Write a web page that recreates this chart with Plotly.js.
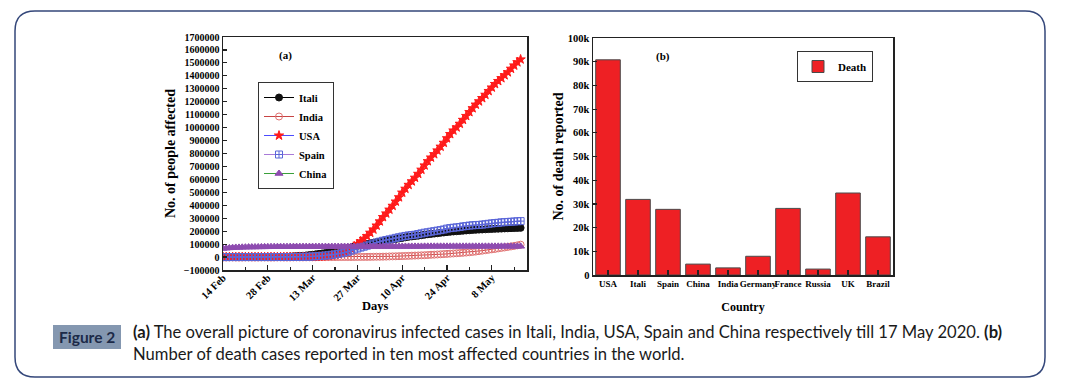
<!DOCTYPE html>
<html><head><meta charset="utf-8">
<script src="https://cdn.plot.ly/plotly-3.0.1.min.js"></script>
<style>html,body{margin:0;padding:0;background:#fff;} #chart{width:1065px;height:386px;}</style>
</head><body><div id="chart"></div>
<script>
// ---------- data: panel (a) daily cumulative cases, 14 Feb -> 17 May 2020 ----------
const startDate = '2020-02-14';
const italiCases = [3,3,3,3,3,3,3,20,79,155,229,322,453,655,888,1128,
  1694,2036,2502,3089,3858,4636,5883,7375,9172,10149,12462,15113,17660,21157,24747,27980,31506,35713,41035,47021,53578,59138,63927,69176,74386,80589,86498,92472,97689,101739,105792,
  110574,115242,119827,124632,128948,132547,135586,139422,143626,147577,152271,156363,159516,162488,165155,168941,172434,175925,178972,181228,183957,187327,189973,192994,195351,197675,199414,201505,203591,205463,
  207428,209328,210717,211938,213013,214457,215858,217185,218268,219070,219814,221216,222104,223096,223885,224760,225435];
const indiaCases = [3,3,3,3,3,3,3,3,3,3,3,3,3,3,3,3,
  3,5,5,28,30,31,34,39,48,56,62,73,82,102,113,119,142,156,194,244,330,396,499,536,657,727,887,987,1024,1251,1397,
  1998,2543,2567,3082,3588,4778,5311,5916,6725,7598,8446,9205,10453,11487,12322,13430,14352,15722,17615,18539,20080,21370,23077,24530,26283,27890,29451,31324,33062,34863,
  37257,39699,42505,46437,49400,52987,56351,59695,62808,67161,70768,74292,78055,81997,85784,90648,95698];
const usaCases = [15,15,15,15,15,15,15,15,35,35,53,57,60,60,62,68,
  75,100,124,158,221,319,435,541,704,994,1301,1630,2183,2770,3613,4596,6344,9197,13779,19367,24192,33592,43734,53740,65778,83836,101657,121478,140886,161807,188172,
  213372,243616,275586,308850,337072,366667,396223,429052,462000,498000,528000,558000,585000,613000,643000,675000,708000,741000,769000,795000,824000,853000,883000,918000,950000,978000,1002000,1030000,1060000,1090000,
  1120000,1150000,1178000,1203000,1228000,1254000,1283000,1310000,1337000,1360000,1382000,1405000,1428000,1455000,1480000,1505000,1527000];
const spainCases = [2,2,2,2,2,2,2,2,2,2,2,6,13,15,32,45,
  84,120,165,222,259,400,500,673,1073,1695,2277,2277,5232,6391,7798,9942,11748,13910,17963,20410,25374,28768,35136,39885,49515,57786,65719,73235,80110,87956,95923,
  104118,112065,119199,126168,131646,136675,141942,148220,153222,158273,163027,166831,170099,172541,177633,182816,188068,191726,195944,200210,204178,208389,213024,219764,223759,226629,229422,232128,236899,239639,
  242988,245567,247122,248301,250561,253682,256855,260117,262783,264663,268143,269520,271095,272646,274367,276505,277719];
const chinaCases = [66492,68500,70548,72436,74185,74576,75465,76288,76936,77150,77658,78064,78497,78824,79251,79824,
  80026,80151,80270,80409,80552,80651,80695,80735,80754,80778,80793,80813,80824,80844,80860,80881,80894,80928,80967,81008,81054,81093,81171,81218,81285,81340,81394,81439,81470,81518,81554,
  81589,81620,81639,81669,81708,81740,81802,81865,81907,81953,82052,82160,82249,82295,82341,82367,82719,82735,82747,82758,82788,82798,82804,82816,82827,82830,82836,82858,82862,82862,
  82874,82875,82877,82880,82881,82883,82885,82886,82887,82901,82918,82919,82926,82929,82933,82941,82947];
const dayTickVals = ['2020-02-14','2020-02-28','2020-03-13','2020-03-27','2020-04-10','2020-04-24','2020-05-08'];
const dayTickText = ['14 Feb','28 Feb','13 Mar','27 Mar','10 Apr','24 Apr','8 May'];
const caseTickVals = [-100000,0,100000,200000,300000,400000,500000,600000,700000,800000,900000,1000000,1100000,1200000,1300000,1400000,1500000,1600000,1700000];

// ---------- data: panel (b) deaths ----------
const countries = ['USA','Itali','Spain','China','India','Germany','France','Russia','UK','Brazil'];
const deaths = [90800,31900,27700,4600,3000,7900,28100,2500,34600,16100];
const deathTickVals = [0,10000,20000,30000,40000,50000,60000,70000,80000,90000,100000];
const deathTickText = ['0','10k','20k','30k','40k','50k','60k','70k','80k','90k','100k'];

// daily dates
const days = [];
{
  const t0 = Date.parse(startDate + 'T00:00:00Z');
  for (let i = 0; i < usaCases.length; i++) {
    days.push(new Date(t0 + i * 86400000).toISOString().slice(0, 10));
  }
}

// ---------- layout helpers (pixel -> paper) ----------
const W = 1065, H = 386;
const px = x => x / W;
const py = y => 1 - y / H;
const SERIF = 'Liberation Serif, Times New Roman, serif';
const SANS = 'Lato, Open Sans, sans-serif';
const bold = (size, color) => ({family: SERIF, size: size, weight: 'bold', color: color || '#000'});

const mk = (name, y, sym, mcol, size, lcol) => ({
  type: 'scatter', mode: 'lines+markers', name: name, x: days, y: y,
  xaxis: 'x', yaxis: 'y', legend: 'legend',
  line: {color: lcol, width: 1},
  marker: {symbol: sym, color: mcol, size: size, line: {color: mcol, width: 1}}
});

const traces = [
  mk('Itali', italiCases, 'circle', '#111111', 7, '#000000'),
  mk('India', indiaCases, 'circle-open', '#e07070', 7, '#c84444'),
  mk('USA', usaCases, 'star', '#ff1a1a', 7, '#4b4bff'),
  mk('Spain', spainCases, 'square-cross-open', '#5a66d8', 7, '#a87ad8'),
  mk('China', chinaCases, 'triangle-up', '#8e4cb0', 7, '#3aa03a'),
  {
    type: 'bar', name: 'Death', x: countries, y: deaths, xaxis: 'x2', yaxis: 'y2', legend: 'legend2',
    marker: {color: '#ee2024', line: {color: '#4a4a4a', width: 1}}
  }
];

// rounded border path
function roundRect(x0, y0, x1, y1, r) {
  const X = px, Y = py;
  return 'M ' + X(x0 + r) + ' ' + Y(y0) +
    ' L ' + X(x1 - r) + ' ' + Y(y0) +
    ' Q ' + X(x1) + ' ' + Y(y0) + ' ' + X(x1) + ' ' + Y(y0 + r) +
    ' L ' + X(x1) + ' ' + Y(y1 - r) +
    ' Q ' + X(x1) + ' ' + Y(y1) + ' ' + X(x1 - r) + ' ' + Y(y1) +
    ' L ' + X(x0 + r) + ' ' + Y(y1) +
    ' Q ' + X(x0) + ' ' + Y(y1) + ' ' + X(x0) + ' ' + Y(y1 - r) +
    ' L ' + X(x0) + ' ' + Y(y0 + r) +
    ' Q ' + X(x0) + ' ' + Y(y0) + ' ' + X(x0 + r) + ' ' + Y(y0) + ' Z';
}

const axisCommon = {
  showline: true, linecolor: '#222', linewidth: 1.5, mirror: true,
  ticks: 'inside', tickcolor: '#222', tickwidth: 1.2, showgrid: false, zeroline: false
};

const ann = (x, y, text, font, xa) => ({
  xref: 'paper', yref: 'paper', x: px(x), y: py(y), text: text, showarrow: false,
  xanchor: xa || 'center', yanchor: 'middle', font: font
});

const layout = {
  width: W, height: H,
  margin: {l: 0, r: 0, t: 0, b: 0},
  paper_bgcolor: '#fff', plot_bgcolor: '#fff',
  showlegend: true,
  bargap: 0.18,
  xaxis: Object.assign({}, axisCommon, {
    domain: [px(223), px(527)], anchor: 'y',
    type: 'date', range: ['2020-02-14', '2020-05-19'],
    tickmode: 'array', tickvals: dayTickVals, ticktext: dayTickText,
    tickangle: -45, ticklen: 5, tickfont: bold(10.5), ticklabelstandoff: -4,
    minor: {ticks: 'inside', ticklen: 3, tick0: '2020-02-14', dtick: 7 * 86400000, tickcolor: '#222', showgrid: false}
  }),
  yaxis: Object.assign({}, axisCommon, {
    domain: [py(270), py(37)], anchor: 'x',
    range: [-100000, 1700000],
    tickmode: 'array', tickvals: caseTickVals, tickformat: 'd',
    ticklen: 4, tickfont: bold(10),
    title: {text: 'No. of people affected', font: bold(14), standoff: 5}
  }),
  xaxis2: Object.assign({}, axisCommon, {
    domain: [px(593), px(893)], anchor: 'y2',
    type: 'category', range: [-0.5, 9.5],
    tickangle: 0, ticklen: 5, tickfont: bold(9),
    title: {text: 'Country', font: bold(12), standoff: 14}
  }),
  yaxis2: Object.assign({}, axisCommon, {
    domain: [py(275), py(38)], anchor: 'x2',
    range: [0, 100000],
    tickmode: 'array', tickvals: deathTickVals, ticktext: deathTickText,
    ticklen: 4, tickfont: bold(10.5),
    title: {text: 'No. of death reported', font: bold(14), standoff: 1}
  }),
  legend: {
    x: px(258), y: py(82), xanchor: 'left', yanchor: 'top',
    bgcolor: '#fff', bordercolor: '#333', borderwidth: 1,
    font: bold(10.5), itemwidth: 30, tracegroupgap: 0
  },
  legend2: {
    x: px(797), y: py(51), xanchor: 'left', yanchor: 'top',
    bgcolor: '#fff', bordercolor: '#333', borderwidth: 1,
    font: bold(11), itemwidth: 30
  },
  shapes: [
    {type: 'path', xref: 'paper', yref: 'paper', path: roundRect(15, 11, 1045, 377, 20),
     line: {color: '#34477a', width: 1.5}, fillcolor: 'rgba(0,0,0,0)'},
    {type: 'rect', xref: 'paper', yref: 'paper', x0: px(53), x1: px(121), y0: py(349), y1: py(325),
     line: {width: 0}, fillcolor: '#8497b0'}
  ],
  annotations: [
    ann(375, 306, 'Days', bold(12.5)),
    ann(285, 55, '(a)', bold(11)),
    ann(663, 57, '(b)', bold(11)),
    ann(87, 337, '<b>Figure 2</b>', {family: SANS, size: 15.5, color: '#1c2a48'}),
    ann(131, 332, '<b>(a)</b> The overall picture of coronavirus infected cases in Itali, India, USA, Spain and China respectively till 17 May 2020. <b>(b)</b>',
        {family: SANS, size: 16.6, color: '#1a1a1a'}, 'left'),
    ann(131, 354, 'Number of death cases reported in ten most affected countries in the world.',
        {family: SANS, size: 16.6, color: '#1a1a1a'}, 'left')
  ]
};

Plotly.newPlot('chart', traces, layout, {displayModeBar: false, staticPlot: true});
</script>
</body></html>
